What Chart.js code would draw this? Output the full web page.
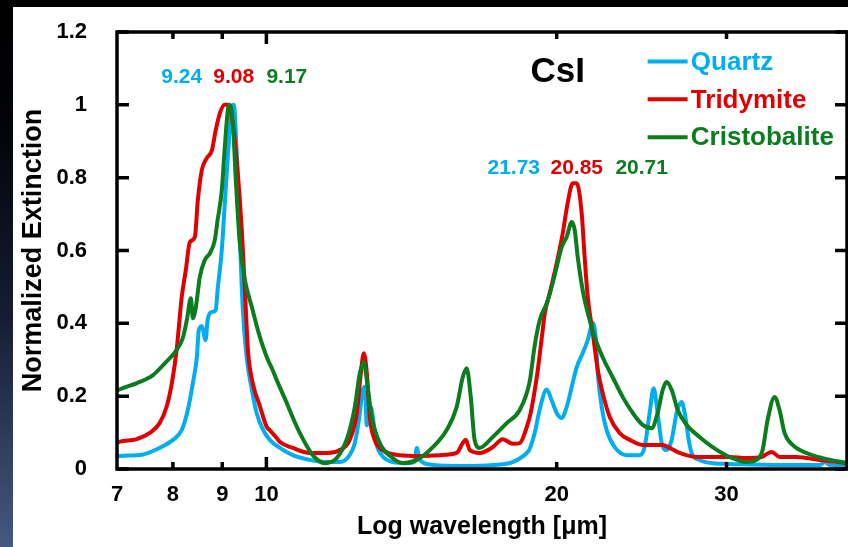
<!DOCTYPE html>
<html><head><meta charset="utf-8">
<script src="https://cdn.jsdelivr.net/npm/chart.js@4.4.1/dist/chart.umd.min.js"></script>
<style>
html,body{margin:0;padding:0;}
body{width:848px;height:547px;overflow:hidden;position:relative;
  background:linear-gradient(180deg,#000 0%,#020308 22%,#141d33 58%,#45597f 100%);}
#wrap{position:absolute;left:13px;top:7px;width:835px;height:540px;background:#fff;}
</style></head><body>
<div id="wrap"><canvas id="c"></canvas></div>
<script>
// ---- data ----
const quartzWl = [7.00,7.05,7.45,7.75,8.00,8.17,8.29,8.39,8.47,8.51,8.57,8.65,8.69,8.78,8.86,8.90,8.99,9.05,9.12,9.21,9.25,9.32,9.38,9.45,9.54,9.66,9.77,9.91,10.08,10.33,10.65,11.09,11.55,11.91,12.20,12.35,12.47,12.59,12.65,12.71,12.83,13.00,13.20,13.52,14.00,14.25,14.32,14.42,14.90,16.00,17.20,18.00,18.62,18.75,18.98,19.21,19.53,19.76,20.00,20.24,20.48,20.73,20.98,21.28,21.54,21.80,21.95,22.06,22.27,22.53,22.97,23.64,24.38,24.67,24.97,25.21,25.45,25.70,26.00,26.32,26.63,26.95,27.15,27.41,27.60,28.13,29.02,30.22,34.00,37.50,37.92,38.40,40.00];
const quartzExt = [0.035,0.036,0.040,0.058,0.080,0.107,0.162,0.236,0.307,0.381,0.392,0.354,0.409,0.431,0.436,0.491,0.601,0.719,0.856,0.993,1.000,0.856,0.656,0.444,0.307,0.217,0.154,0.110,0.080,0.058,0.038,0.025,0.019,0.019,0.038,0.071,0.134,0.217,0.225,0.120,0.170,0.070,0.035,0.019,0.016,0.020,0.058,0.025,0.011,0.008,0.011,0.019,0.044,0.055,0.100,0.165,0.218,0.189,0.154,0.140,0.170,0.225,0.280,0.318,0.354,0.401,0.362,0.263,0.170,0.107,0.060,0.038,0.038,0.060,0.154,0.222,0.154,0.071,0.052,0.080,0.154,0.184,0.154,0.080,0.044,0.025,0.016,0.014,0.011,0.011,0.019,0.011,0.008];

const tridymiteWl = [7.00,7.05,7.34,7.57,7.75,7.88,7.98,8.07,8.17,8.25,8.33,8.43,8.49,8.57,8.67,8.78,8.86,8.95,9.05,9.12,9.23,9.34,9.43,9.50,9.57,9.68,9.84,10.01,10.08,10.25,10.33,10.65,11.09,11.55,11.91,12.20,12.41,12.53,12.62,12.71,12.80,12.95,13.20,13.75,14.42,15.13,15.75,15.98,16.10,16.25,16.64,17.17,17.58,18.01,18.31,18.62,18.80,19.09,19.32,19.44,19.67,20.00,20.29,20.53,20.78,20.98,21.23,21.38,21.54,21.80,22.06,22.32,22.70,23.24,23.81,24.56,25.76,26.19,26.82,27.93,30.22,31.48,32.62,33.41,34.05,35.46,37.47,40.00];
const tridymiteExt = [0.072,0.075,0.082,0.099,0.126,0.171,0.236,0.326,0.472,0.546,0.623,0.637,0.738,0.820,0.853,0.875,0.930,0.977,1.000,1.000,0.949,0.812,0.656,0.491,0.326,0.236,0.175,0.115,0.107,0.085,0.074,0.058,0.044,0.044,0.052,0.080,0.154,0.263,0.318,0.263,0.143,0.080,0.052,0.038,0.036,0.038,0.044,0.071,0.080,0.052,0.044,0.060,0.082,0.069,0.071,0.115,0.155,0.260,0.370,0.428,0.483,0.565,0.647,0.730,0.785,0.785,0.702,0.582,0.472,0.373,0.272,0.209,0.143,0.099,0.080,0.066,0.066,0.058,0.044,0.033,0.033,0.030,0.033,0.047,0.033,0.033,0.025,0.016];

const cristobaliteWl = [7.00,7.05,7.34,7.63,7.85,8.04,8.19,8.27,8.35,8.39,8.45,8.53,8.63,8.74,8.84,8.90,8.99,9.05,9.12,9.16,9.23,9.30,9.38,9.50,9.66,9.84,10.01,10.15,10.25,10.50,10.57,10.83,11.17,11.50,11.83,12.14,12.35,12.50,12.62,12.71,12.86,13.11,13.52,13.85,14.32,14.88,15.38,15.75,15.98,16.13,16.29,16.44,16.64,17.17,17.75,18.31,18.75,18.98,19.21,19.53,19.76,20.00,20.24,20.48,20.73,20.88,21.03,21.28,21.54,21.90,22.32,22.86,23.41,23.98,24.56,25.09,25.45,25.76,26.00,26.32,26.70,27.28,28.13,29.02,30.22,31.48,32.23,32.70,33.09,33.65,34.05,34.46,35.13,36.32,37.74,40.00];
const cristobaliteExt = [0.215,0.219,0.236,0.258,0.291,0.321,0.359,0.409,0.469,0.414,0.444,0.527,0.573,0.593,0.628,0.683,0.765,0.875,0.985,1.000,0.949,0.785,0.628,0.519,0.444,0.365,0.307,0.272,0.244,0.181,0.162,0.099,0.038,0.016,0.030,0.088,0.170,0.263,0.294,0.244,0.143,0.071,0.030,0.016,0.025,0.060,0.107,0.170,0.252,0.277,0.198,0.080,0.058,0.088,0.126,0.162,0.240,0.340,0.410,0.455,0.500,0.555,0.609,0.637,0.678,0.656,0.582,0.491,0.428,0.362,0.307,0.252,0.198,0.154,0.121,0.112,0.154,0.217,0.239,0.217,0.162,0.121,0.088,0.060,0.033,0.019,0.025,0.052,0.134,0.198,0.162,0.099,0.066,0.044,0.030,0.016];

const seriesNames = ['Quartz','Tridymite','Cristobalite'];
const peakLabels1 = ['9.24','9.08','9.17'];     // 9 µm band peaks
const peakLabels2 = ['21.73','20.85','20.71'];  // 20 µm band peaks
const xTickValues = [7,8,9,10,20,30];
const xTickMarks = [8,9,10,20,30];
const yTickLabels = ['0','0.2','0.4','0.6','0.8','1','1.2'];

// ---- styling ----
const colors = ['#00AEEF','#E10000','#0B7D1E'];
const FONT = "'Liberation Sans', Arial, Helvetica, sans-serif";
Chart.defaults.font.family = FONT;
Chart.defaults.font.weight = 'bold';
Chart.defaults.color = '#000';

const toPts = (w, v) => w.map((x, i) => ({x, y: v[i]}));
const series = [[quartzWl, quartzExt], [tridymiteWl, tridymiteExt], [cristobaliteWl, cristobaliteExt]];
const drawOrder = [2, 1, 0];

// label placements (in data units)
const peak1X = [8.17, 9.25, 10.50], peak1Y = 1.075;
const peak2X = [18.05, 20.98, 24.50], peak2Y = 0.826;
const legendX0 = 24.85, legendX1 = 27.34, legendTextX = 27.55, legendY = [1.119, 1.015, 0.911];

const framePlugin = {
  id: 'frame',
  afterDraw(chart) {
    const {ctx, chartArea: a, scales: {x, y}} = chart;
    ctx.save();
    ctx.strokeStyle = '#000';
    ctx.lineWidth = 3.5;
    ctx.strokeRect(a.left, a.top, a.right - a.left, a.bottom - a.top);
    ctx.beginPath();
    y.ticks.forEach(t => {
      const py = y.getPixelForValue(t.value);
      ctx.moveTo(a.left, py); ctx.lineTo(a.left + 12, py);
      ctx.moveTo(a.right, py); ctx.lineTo(a.right - 12, py);
    });
    xTickMarks.forEach(v => {
      const px = x.getPixelForValue(v);
      const len = v === 10 ? 12 : 7;
      ctx.moveTo(px, a.bottom); ctx.lineTo(px, a.bottom - len);
      ctx.moveTo(px, a.top); ctx.lineTo(px, a.top + len);
    });
    ctx.stroke();

    ctx.textAlign = 'center';
    ctx.textBaseline = 'middle';
    ctx.font = 'bold 21px ' + FONT;
    peakLabels1.forEach((t, i) => {
      ctx.fillStyle = colors[i];
      ctx.fillText(t, x.getPixelForValue(peak1X[i]), y.getPixelForValue(peak1Y));
    });
    peakLabels2.forEach((t, i) => {
      ctx.fillStyle = colors[i];
      ctx.fillText(t, x.getPixelForValue(peak2X[i]), y.getPixelForValue(peak2Y));
    });
    ctx.font = 'bold 35px ' + FONT;
    ctx.fillStyle = '#000';
    ctx.fillText('CsI', x.getPixelForValue(20.05), y.getPixelForValue(1.089));

    // legend
    ctx.textAlign = 'left';
    ctx.font = 'bold 26px ' + FONT;
    ctx.lineWidth = 4;
    seriesNames.forEach((n, i) => {
      const py = y.getPixelForValue(legendY[i]);
      ctx.strokeStyle = colors[i];
      ctx.beginPath();
      ctx.moveTo(x.getPixelForValue(legendX0), py);
      ctx.lineTo(x.getPixelForValue(legendX1), py);
      ctx.stroke();
      ctx.fillStyle = colors[i];
      ctx.fillText(n, x.getPixelForValue(legendTextX), py + 1);
    });
    ctx.restore();
  }
};

new Chart(document.getElementById('c'), {
  type: 'line',
  data: {
    datasets: series.map((s, i) => ({
      label: seriesNames[i],
      data: toPts(s[0], s[1]),
      borderColor: colors[i],
      backgroundColor: colors[i],
      borderWidth: 4,
      pointRadius: 0,
      fill: false,
      order: drawOrder[i],
      cubicInterpolationMode: 'monotone'
    }))
  },
  options: {
    responsive: true,
    maintainAspectRatio: false,
    animation: false,
    devicePixelRatio: 1,
    layout: {padding: {top: 25, right: 1, left: 0, bottom: 0}},
    plugins: {legend: {display: false}, tooltip: {enabled: false}},
    scales: {
      x: {
        type: 'logarithmic', min: 7, max: 40,
        grid: {display: false, drawTicks: false},
        border: {display: false},
        afterBuildTicks: s => { s.ticks = xTickValues.map(v => ({value: v})); },
        afterFit: s => { s.height = 78; s.paddingLeft = 0; s.paddingRight = 0; },
        ticks: {autoSkip: false, maxRotation: 0, minRotation: 0, padding: 13, color: '#000',
          font: {size: 22, weight: 'bold'},
          callback: v => String(v)},
        title: {display: true, text: 'Log wavelength [μm]', color: '#000',
          font: {size: 25, weight: 'bold'}, padding: {top: 0, bottom: 5}}
      },
      y: {
        min: 0, max: 1.2,
        grid: {display: false, drawTicks: false},
        border: {display: false},
        afterFit: s => { s.width = 104; s.paddingTop = 0; s.paddingBottom = 0; },
        ticks: {stepSize: 0.2, padding: 30, color: '#000', font: {size: 22, weight: 'bold'},
          callback: (v, i) => yTickLabels[i]},
        title: {display: true, text: 'Normalized Extinction', color: '#000',
          font: {size: 27, weight: 'bold'}, padding: {top: 4, bottom: 0}}
      }
    }
  },
  plugins: [framePlugin]
});
</script>
</body></html>
